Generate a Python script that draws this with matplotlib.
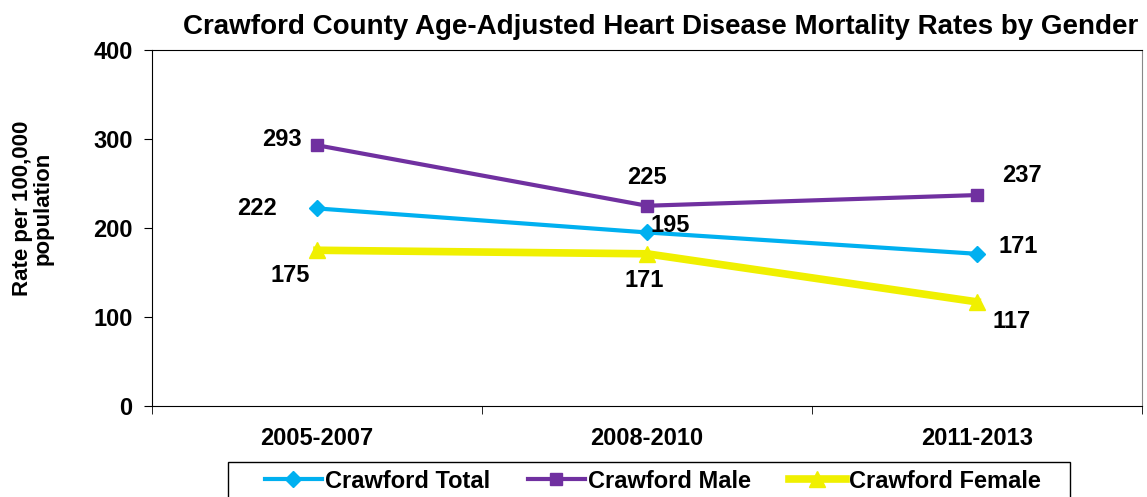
import matplotlib.pyplot as plt
from matplotlib.patches import Rectangle

plt.rcParams['font.family'] = ['Liberation Sans', 'DejaVu Sans']
plt.rcParams['font.weight'] = 'bold'

periods = ['2005-2007', '2008-2010', '2011-2013']
total = [222, 195, 171]
male = [293, 225, 237]
female = [175, 171, 117]

# label offsets in points (dx, dy) per point
total_off = [(-43, 0), (17, 5), (30, 5)]
male_off = [(-25, 4), (0, 20), (32, 14)]
female_off = [(-19, -18), (-2, -19), (25, -14)]

fig = plt.figure(figsize=(11.47, 4.97), dpi=100)
ax = fig.add_axes([152 / 1147, 91 / 497, 990 / 1147, 356 / 497])

x = range(len(periods))
ax.plot(x, total, color='#00B0F0', lw=3, marker='D', ms=8, label='Crawford Total', zorder=3)
ax.plot(x, male, color='#7030A0', lw=3, marker='s', ms=9, label='Crawford Male', zorder=3)
ax.plot(x, female, color='#F0F000', lw=5.5, marker='^', ms=11, label='Crawford Female', zorder=2)

for vals, offs in [(total, total_off), (male, male_off), (female, female_off)]:
    for i, v in enumerate(vals):
        ax.annotate(str(v), (i, v), xytext=offs[i], textcoords='offset points',
                    ha='center', va='center', fontsize=17, fontweight='bold')

ax.set_xlim(-0.5, 2.5)
ax.set_ylim(0, 400)
ax.set_yticks([0, 100, 200, 300, 400])
ax.set_xticks([0, 1, 2])
ax.set_xticklabels(periods)
ax.set_xticks([-0.5, 0.5, 1.5, 2.5], minor=True)
ax.tick_params(axis='x', which='major', length=0, pad=15, labelsize=17)
ax.tick_params(axis='x', which='minor', length=6, direction='out')
ax.tick_params(axis='y', length=6, direction='out', labelsize=17, pad=8)
for lab in ax.get_xticklabels() + ax.get_yticklabels():
    lab.set_fontweight('bold')

ax.spines['left'].set_color('black')
ax.spines['bottom'].set_color('black')
ax.spines['top'].set_color('black')
ax.spines['right'].set_color('#888888')

fig.text(33 / 1147, 1 - 208 / 497, 'Rate per 100,000\npopulation', rotation=90,
         ha='center', va='center', multialignment='center', fontsize=16, fontweight='bold',
         linespacing=1.0)
fig.text(661 / 1147, 1 - 27 / 497, 'Crawford County Age-Adjusted Heart Disease Mortality Rates by Gender',
         ha='center', va='center', fontsize=20, fontweight='bold')

# legend frame (bottom edge runs off the figure)
fig.patches.append(Rectangle((228 / 1147, -0.05), (1070 - 228) / 1147, 0.05 + 35 / 497,
                             transform=fig.transFigure, fill=False, edgecolor='black', lw=1))

leg = fig.legend(loc='center left', bbox_to_anchor=(265 / 1147, 1 - 481 / 497), ncol=3,
                 frameon=False, fontsize=17,
                 handlelength=2.4, handletextpad=0.15, columnspacing=1.6, borderpad=0,
                 borderaxespad=0)
for t in leg.get_texts():
    t.set_fontweight('bold')

plt.savefig('out.png', dpi=100)
